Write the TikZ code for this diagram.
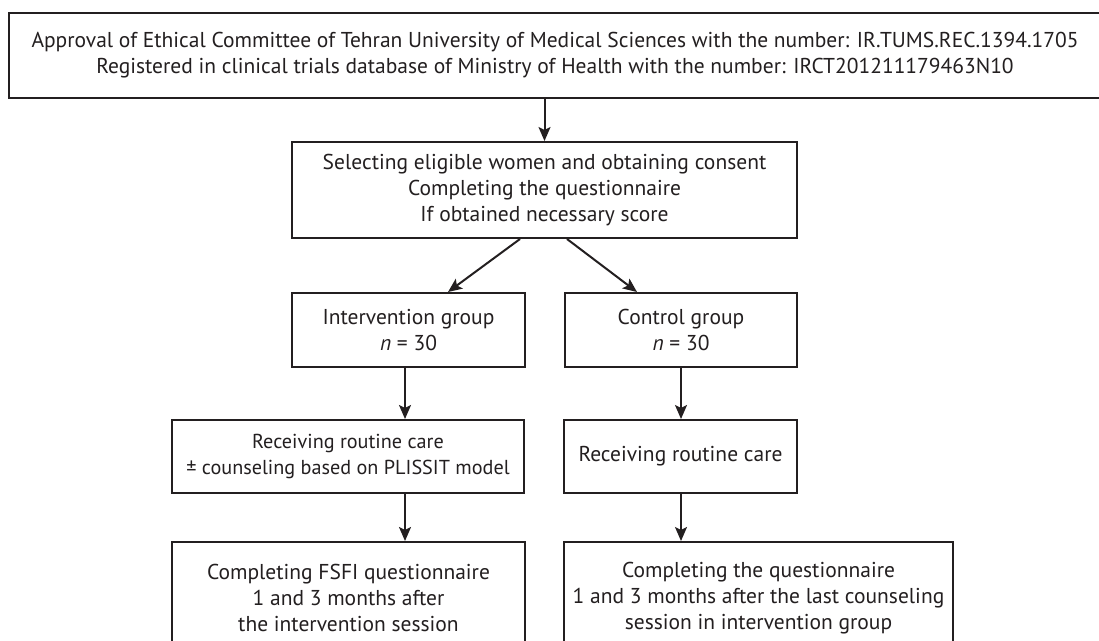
\documentclass[tikz,border=0pt]{standalone}
\usepackage{fontspec}
\setmainfont{PT Sans}
\usetikzlibrary{arrows.meta}
\definecolor{ink}{HTML}{231F20}
\begin{document}
\begin{tikzpicture}[x=1pt,y=-1pt,
  box/.style={draw=ink, line width=2pt, fill=white, inner sep=0pt, align=center,
    text=ink, font=\fontsize{21.5}{26}\selectfont},
  arr/.style={draw=ink, line width=2pt, -{Stealth[length=14pt,width=12pt,inset=3pt]}}]
\useasboundingbox (0,0) rectangle (1099,640);
\node[box, minimum width=1092pt, minimum height=85pt] (top) at (555,55.5)
  {Approval of Ethical Committee of Tehran University of Medical Sciences with the number: IR.TUMS.REC.1394.1705\\
   Registered in clinical trials database of Ministry of Health with the number: IRCT201211179463N10};
\node[box, minimum width=505pt, minimum height=96pt] (sel) at (544.5,190)
  {Selecting eligible women and obtaining consent\\Completing the questionnaire\\If obtained necessary score};
\node[box, minimum width=233pt, minimum height=74pt] (int) at (408.5,330)
  {Intervention group\\\textit{n} = 30};
\node[box, minimum width=232pt, minimum height=74pt] (ctl) at (681,330)
  {Control group\\\textit{n} = 30};
\node[box, minimum width=352pt, minimum height=73pt, font=\fontsize{20.2}{26}\selectfont] (rl) at (348,456.5)
  {Receiving routine care\\± counseling based on PLISSIT model};
\node[box, minimum width=233pt, minimum height=73pt] (rr) at (680.5,456.5)
  {Receiving routine care};
\node[box, minimum width=353pt, minimum height=112pt] (bl) at (348.5,598)
  {Completing FSFI questionnaire\\1 and 3 months after\\the intervention session};
\node[box, minimum width=389pt, minimum height=112pt] (br) at (758.5,598)
  {Completing the questionnaire\\1 and 3 months after the last counseling\\session in intervention group};
\draw[arr] (sel.north |- top.south) -- (sel.north);
\draw[arr] ([xshift=-24.5pt]sel.south) -- ([xshift=39.5pt]int.north);
\draw[arr] ([xshift=22.5pt]sel.south) -- ([xshift=-44pt]ctl.north);
\draw[arr] ([xshift=-3.5pt]int.south) coordinate (a1) -- (a1 |- rl.north);
\draw[arr] (rl.south -| a1) -- (a1 |- bl.north);
\draw[arr] (ctl.south) coordinate (a2) -- (a2 |- rr.north);
\draw[arr] (rr.south -| a2) -- (a2 |- br.north);
\end{tikzpicture}
\end{document}
